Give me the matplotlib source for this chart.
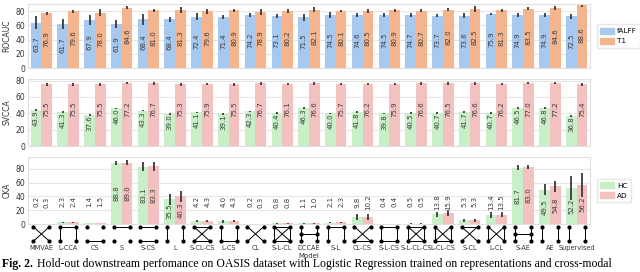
import matplotlib.pyplot as plt
import numpy as np

models = ['MMVAE', 'L-CCA', 'CS', 'S', 'S-CS', 'L', 'S-CL-CS', 'L-CS', 'CL',
          'S-L-CL', 'DCCAE', 'S-L', 'CL-CS', 'S-L-CS', 'S-L-CL-CS',
          'L-CL-CS', 'S-CL', 'L-CL', 'S-AE', 'AE', 'Supervised']

# ROCAUC
rocauc_falff = [63.7, 61.7, 67.9, 61.9, 68.4, 68.4, 72.4, 71.4, 74.2, 73.1,
                71.5, 74.5, 74.6, 74.5, 74.7, 73.7, 73.6, 75.9, 74.9, 74.9,
                72.5]
rocauc_falff_err = [9, 7, 7, 5, 8, 4, 5, 2.5, 2.5, 2.5, 5, 4, 3, 3, 2.5, 2,
                    3.5, 2, 2.5, 3, 3.5]
rocauc_t1 = [76.9, 79.6, 78.0, 84.6, 81.0, 81.3, 79.6, 80.9, 78.9, 80.2,
             82.1, 80.1, 80.5, 80.9, 80.7, 82.0, 82.5, 81.3, 83.5, 84.6, 88.6]
rocauc_t1_err = [2.5, 2.5, 5, 2, 2.5, 4, 4, 2, 4, 2.5, 3, 2, 2.5, 2, 2.5, 2,
                 4, 2, 2, 2.5, 3]

# SVCCA
svcca_hc = [43.9, 41.3, 37.6, 46.0, 43.3, 39.0, 41.1, 39.1, 42.3, 40.4, 46.3,
            40.0, 41.8, 39.8, 40.5, 40.7, 41.7, 40.7, 46.5, 46.8, 36.8]
svcca_ad = [75.5, 75.5, 75.5, 77.2, 76.7, 75.3, 75.9, 75.5, 76.7, 76.1, 76.6,
            75.7, 76.2, 75.9, 76.6, 76.5, 76.6, 76.2, 77.0, 77.2, 75.4]
svcca_hc_err = [1.0] * 21
svcca_ad_err = [1.5] * 21

# CKA
cka_hc = [0.2, 2.3, 1.4, 88.8, 83.1, 35.5, 4.2, 4.0, 0.2, 0.8, 1.1, 2.1, 9.8,
          0.4, 0.5, 13.8, 5.3, 13.4, 81.7, 49.5, 52.2]
cka_ad = [0.3, 2.4, 1.5, 89.0, 83.3, 40.3, 4.3, 4.3, 0.3, 0.8, 1.0, 2.3, 10.2,
          0.4, 0.5, 15.9, 5.3, 13.5, 83.0, 54.8, 56.2]
cka_hc_err = [0.3, 1, 0.5, 3, 7, 8, 2, 2, 0.3, 0.5, 0.5, 1, 4, 0.3, 0.3, 4,
              2, 4, 3, 8, 18]
cka_ad_err = [0.3, 1, 0.5, 3, 7, 8, 2, 2, 0.3, 0.5, 0.5, 1, 4, 0.3, 0.3, 4,
              2, 4, 3, 8, 17]

# graph icon edges per model: S=top, CS=bottom, L=sides, CL=cross, H=middle
icon_edges = ['CL', 'S L', 'CS', 'S', 'S CS', 'L', 'S CL CS', 'L CS', 'CL',
              'S L CL CS', 'L H', 'S L', 'CL CS', 'S L CS', 'S L CL CS',
              'L CL CS', 'S CL', 'L CL', 'L H', 'L', 'L']

c_falff = '#a7c8ef'
c_t1 = '#f3b48e'
c_hc = '#c9efc9'
c_ad = '#f4c1c1'
err_col = '#3a3a3a'
txt_col = '#3a3a3a'

plt.rcParams['font.family'] = ['DejaVu Sans']
fig = plt.figure(figsize=(6.4, 2.72), dpi=100)

L, W = 28 / 640, 562 / 640
ax1 = fig.add_axes([L, 1 - 68 / 272, W, 64 / 272])
ax2 = fig.add_axes([L, 1 - 146 / 272, W, 67 / 272])
ax3 = fig.add_axes([L, 1 - 224 / 272, W, 67 / 272])
ax_icon = fig.add_axes([L, 1 - 243 / 272, W, 18 / 272])

x = np.arange(len(models))
bw = 0.4


def style_axis(ax, ylabel, ymax):
    ax.set_xlim(-0.5, len(models) - 0.5)
    ax.set_ylim(0, ymax)
    ax.set_yticks([0, 20, 40, 60, 80])
    ax.set_xticks([])
    ax.grid(axis='y', color='#e6e6e6', linewidth=0.8)
    ax.set_axisbelow(True)
    for s in ax.spines.values():
        s.set_color('#e0e0e0')
        s.set_linewidth(0.8)
    ax.tick_params(axis='y', labelsize=5.5, length=0, pad=2,
                   labelcolor='#333333')
    ax.set_ylabel(ylabel, fontsize=5.5, labelpad=3, color='#333333')


def draw_pair(ax, a, a_err, b, b_err, ca, cb, label_pos):
    ax.bar(x - bw / 2, a, bw, color=ca)
    ax.bar(x + bw / 2, b, bw, color=cb)
    ax.errorbar(x - bw / 2, a, yerr=a_err, fmt='none', ecolor=err_col,
                elinewidth=1.3, capsize=0)
    ax.errorbar(x + bw / 2, b, yerr=b_err, fmt='none', ecolor=err_col,
                elinewidth=1.3, capsize=0)
    for i in range(len(models)):
        for xx, v, which in [(x[i] - bw / 2, a[i], 0), (x[i] + bw / 2, b[i], 1)]:
            ax.text(xx, label_pos(v, which), f'{v:.1f}', rotation=90,
                    ha='center', va='center', fontsize=5, color=txt_col)


def add_legend(ax, colors, names):
    handles = [plt.Rectangle((0, 0), 1, 1, color=c) for c in colors]
    ax.legend(handles, names, loc='center left', bbox_to_anchor=(1.012, 0.5),
              borderaxespad=0, fontsize=5.2, frameon=True,
              edgecolor='#e0e0e0', handlelength=1.9, handleheight=0.9,
              handletextpad=0.5, borderpad=0.45, labelspacing=0.5)


# ROCAUC
draw_pair(ax1, rocauc_falff, rocauc_falff_err, rocauc_t1, rocauc_t1_err,
          c_falff, c_t1, lambda v, w: v / 2 + 2)
style_axis(ax1, 'ROCAUC', 90)
add_legend(ax1, [c_falff, c_t1], ['fALFF', 'T1'])

# SVCCA
draw_pair(ax2, svcca_hc, svcca_hc_err, svcca_ad, svcca_ad_err,
          c_hc, c_ad, lambda v, w: v - 10 if w == 0 else 45)
style_axis(ax2, 'SVCCA', 82)

# CKA
draw_pair(ax3, cka_hc, cka_hc_err, cka_ad, cka_ad_err,
          c_hc, c_ad, lambda v, w: v / 2 if v > 30 else 32)
style_axis(ax3, 'CKA', 97)
add_legend(ax3, [c_hc, c_ad], ['HC', 'AD'])

# graph icons under the CKA panel
ax_icon.set_xlim(-0.5, len(models) - 0.5)
ax_icon.set_ylim(-0.12, 1.12)
ax_icon.axis('off')
d = 0.3
for i, codes in enumerate(icon_edges):
    tl, tr = (i - d, 1), (i + d, 1)
    bl, br = (i - d, 0), (i + d, 0)
    segs = []
    for c in codes.split():
        if c == 'S':
            segs.append((tl, tr))
        elif c == 'CS':
            segs.append((bl, br))
        elif c == 'L':
            segs += [(tl, bl), (tr, br)]
        elif c == 'CL':
            segs += [(tl, br), (tr, bl)]
        elif c == 'H':
            segs.append(((i - d, 0.5), (i + d, 0.5)))
    for p, q in segs:
        ax_icon.plot([p[0], q[0]], [p[1], q[1]], color='black', lw=0.7)
    nodes = [tl, tr, bl, br]
    if 'H' in codes:
        nodes += [(i - d, 0.5), (i + d, 0.5)]
    ax_icon.plot([n[0] for n in nodes], [n[1] for n in nodes], 'o',
                 color='black', markersize=2)

for i, m in enumerate(models):
    fig.text(L + W * (i + 0.5) / len(models), 1 - 248 / 272, m,
             ha='center', va='center', fontsize=4.7, color='#333333')
fig.text(L + W / 2, 1 - 256 / 272, 'Model', ha='center', va='center',
         fontsize=5, color='#333333')

# caption, cut off by the figure edge like in the paper
fig.text(0.003, 1 - 267 / 272, 'Fig. 2.', ha='left', va='baseline',
         fontsize=8.5, family='Liberation Serif', fontweight='bold')
fig.text(0.058, 1 - 267 / 272,
         'Hold-out downstream perfomance on OASIS dataset with Logistic '
         'Regression trained on representations and cross-modal',
         ha='left', va='baseline', fontsize=8.5, family='Liberation Serif')

fig.savefig('out.png', dpi=100)
